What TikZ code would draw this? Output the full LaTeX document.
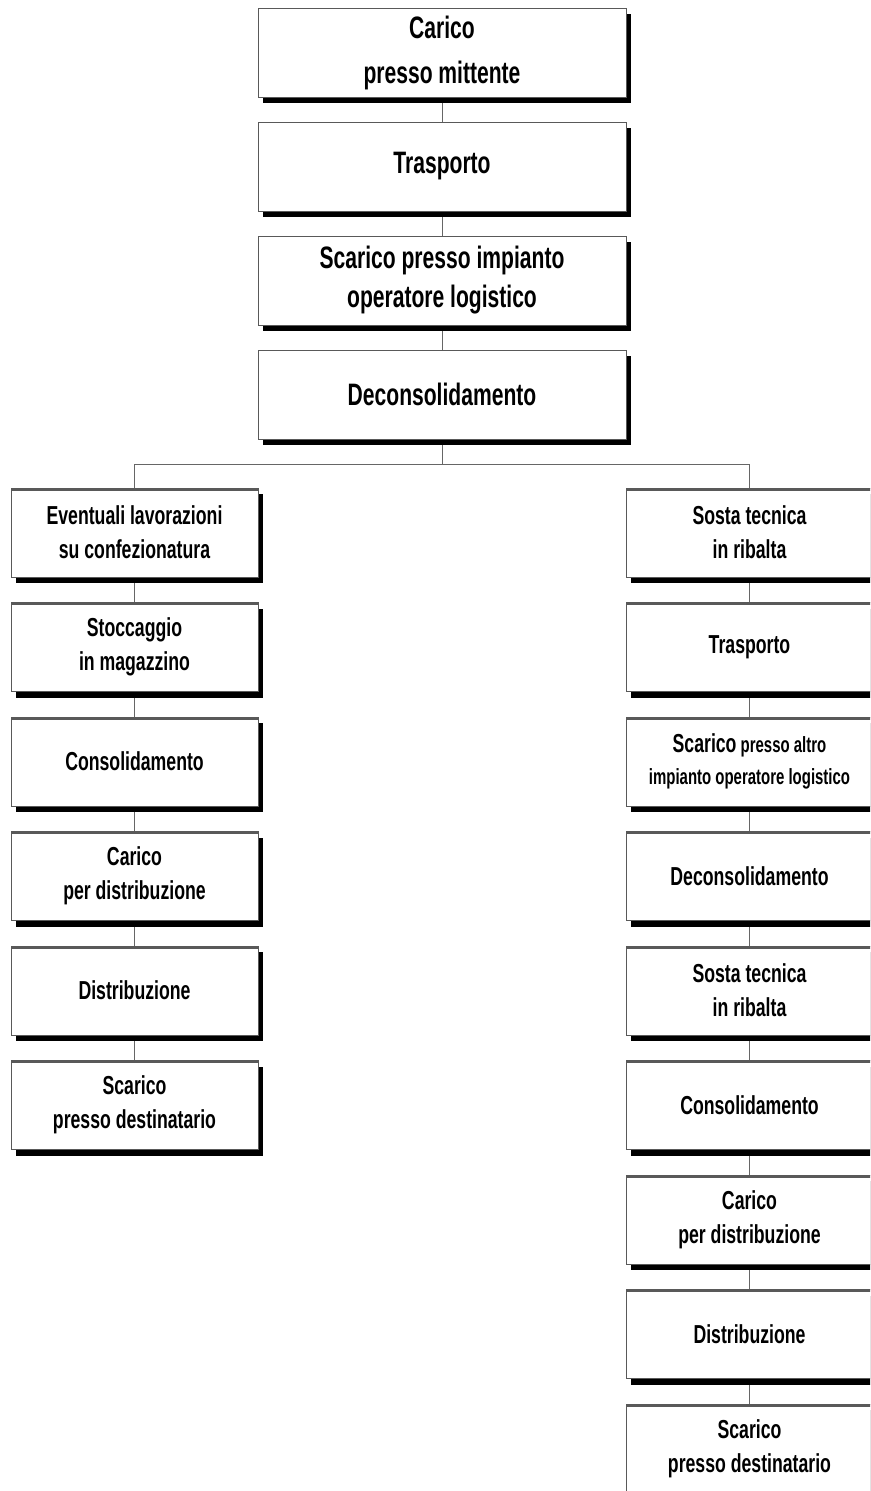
\documentclass[tikz,border=0pt]{standalone}
\usepackage{fontspec}
\setmainfont{Liberation Sans}[FakeStretch=0.68]
\usetikzlibrary{positioning,shadows,backgrounds}

\begin{document}
\begin{tikzpicture}[x=1pt,y=-1pt,
    box/.style={draw=black!65,line width=1pt,fill=white,align=center,
      inner sep=0pt,outer sep=0pt,minimum height=89pt,
      drop shadow={shadow xshift=5pt,shadow yshift=-6pt,fill=black,opacity=1}},
    topbox/.style={box,minimum width=368pt,
      font=\fontsize{31}{39}\selectfont\bfseries},
    colbox/.style={box,minimum width=247pt,
      font=\fontsize{26}{34}\selectfont\bfseries,
      path picture={\draw[line width=5pt]
        (path picture bounding box.north west) -- (path picture bounding box.north east);}},
    link/.style={draw=black!60,line width=1pt},
    node distance=25.5pt]
    \clip (0,0) rectangle (870,1491);

    \node[topbox,font=\fontsize{31}{45}\selectfont\bfseries] (carico) at (442,52.5) {Carico\\presso mittente};
    \node[topbox,below=25pt of carico] (trasporto) {Trasporto};
    \node[topbox,below=25pt of trasporto] (scarico) {Scarico presso impianto\\operatore logistico};
    \node[topbox,below=25pt of scarico] (decons) {Deconsolidamento};

    \node[colbox] (l1) at (134.5,532.5) {Eventuali lavorazioni\\su confezionatura};
    \node[colbox,below=of l1] (l2) {Stoccaggio\\in magazzino};
    \node[colbox,below=of l2] (l3) {Consolidamento};
    \node[colbox,below=of l3] (l4) {Carico\\per distribuzione};
    \node[colbox,below=of l4] (l5) {Distribuzione};
    \node[colbox,below=of l5] (l6) {Scarico\\presso destinatario};

    \node[colbox] (r1) at (749.5,532.5) {Sosta tecnica\\in ribalta};
    \node[colbox,below=of r1] (r2) {Trasporto};
    \node[colbox,below=of r2,font=\fontsize{22}{32}\selectfont\bfseries] (r3)
      {{\fontsize{26}{32}\selectfont Scarico} presso altro\\impianto operatore logistico};
    \node[colbox,below=of r3] (r4) {Deconsolidamento};
    \node[colbox,below=of r4] (r5) {Sosta tecnica\\in ribalta};
    \node[colbox,below=of r5] (r6) {Consolidamento};
    \node[colbox,below=of r6] (r7) {Carico\\per distribuzione};
    \node[colbox,below=of r7] (r8) {Distribuzione};
    \node[colbox,below=of r8] (r9) {Scarico\\presso destinatario};

    \begin{scope}[on background layer]
      \draw[link] (carico) -- (trasporto);
      \draw[link] (trasporto) -- (scarico);
      \draw[link] (scarico) -- (decons);
      \coordinate (split) at ([yshift=-25pt]decons.south);
      \draw[link] (decons.south) -- (split) -| (l1.north);
      \draw[link] (split) -| (r1.north);
      \foreach \a/\b in {1/2,2/3,3/4,4/5,5/6}
        \draw[link] (l\a) -- (l\b);
      \foreach \a/\b in {1/2,2/3,3/4,4/5,5/6,6/7,7/8,8/9}
        \draw[link] (r\a) -- (r\b);
    \end{scope}
\end{tikzpicture}
\end{document}
